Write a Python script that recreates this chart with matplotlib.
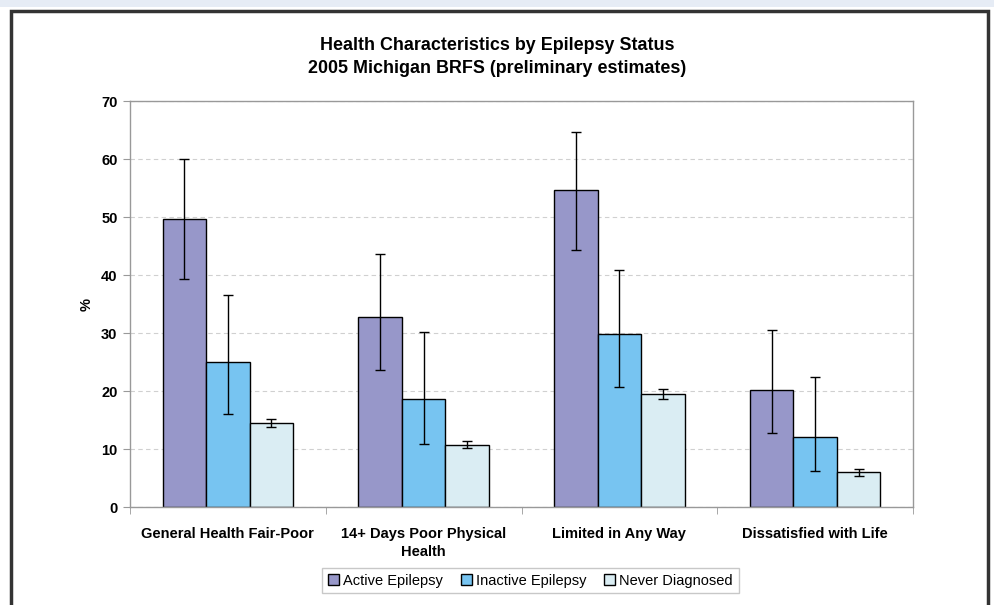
import numpy as np
import matplotlib.pyplot as plt
from matplotlib.patches import Rectangle

plt.rcParams['font.family'] = ['Liberation Sans', 'DejaVu Sans']

# data
categories = ['General Health Fair-Poor', '14+ Days Poor Physical\nHealth',
              'Limited in Any Way', 'Dissatisfied with Life']
series = ['Active Epilepsy', 'Inactive Epilepsy', 'Never Diagnosed']
active = [49.7, 32.9, 54.7, 20.3]
active_lo = [39.3, 23.7, 44.3, 12.8]
active_hi = [60.0, 43.7, 64.8, 30.5]
inactive = [25.0, 18.7, 29.9, 12.2]
inactive_lo = [16.1, 10.9, 20.7, 6.2]
inactive_hi = [36.6, 30.3, 41.0, 22.5]
never = [14.6, 10.8, 19.5, 6.1]
never_lo = [13.9, 10.2, 18.7, 5.4]
never_hi = [15.3, 11.5, 20.4, 6.6]
colors = ['#9797C9', '#77C4F1', '#DAEDF3']

fig = plt.figure(figsize=(9.94, 6.05), dpi=100)
W, H = 994, 605

# page strip and outer frame
fig.patches.append(Rectangle((0, 1 - 7 / H), 1, 7 / H, transform=fig.transFigure,
                             facecolor='#E6ECF5', edgecolor='none', zorder=-2))
fig.patches.append(Rectangle((11 / W, -0.05), (988 - 11) / W, (605 - 10.5) / H + 0.05,
                             transform=fig.transFigure, facecolor='white',
                             edgecolor='#333333', linewidth=2.5, zorder=-1))

ax = fig.add_axes([130 / W, 1 - 507.3 / H, (913 - 130) / W, (507.3 - 101.5) / H])
ax.set_zorder(1)

x = np.arange(len(categories))
w = 1 / 4.5
vals = [active, inactive, never]
los = [active_lo, inactive_lo, never_lo]
his = [active_hi, inactive_hi, never_hi]
for i in range(3):
    v = np.array(vals[i])
    yerr = [v - np.array(los[i]), np.array(his[i]) - v]
    ax.bar(x + (i - 1) * w, v, w, color=colors[i], edgecolor='black',
           linewidth=1, label=series[i], zorder=2,
           yerr=yerr, capsize=3.5, error_kw=dict(ecolor='black', elinewidth=1,
                                                 capthick=1, zorder=3))

ax.set_xlim(-0.5, len(categories) - 0.5)
ax.set_ylim(0, 70)
ax.set_yticks(range(0, 71, 10))
ax.set_xticks(x)
ax.set_xticks(np.arange(-0.5, len(categories)), minor=True)
ax.set_xticklabels(categories, fontweight='bold', fontsize=10.5, linespacing=1.35)
ax.tick_params(axis='x', which='major', length=0, pad=14)
ax.tick_params(axis='x', which='minor', length=5, color='#999999')
ax.tick_params(axis='y', length=5, color='#999999', labelsize=10.5, pad=4)
for lab in ax.get_yticklabels():
    lab.set_fontweight('bold')
for s in ax.spines.values():
    s.set_color('#999999')
    s.set_linewidth(1)
ax.grid(axis='y', linestyle=(0, (4, 3)), color='#D0D0D0', linewidth=0.8, zorder=0)
ax.set_axisbelow(True)
ax.set_ylabel('%', fontweight='bold', fontsize=10.5, labelpad=5)

fig.text(0.5, 1 - 57 / H, 'Health Characteristics by Epilepsy Status\n2005 Michigan BRFS (preliminary estimates)',
         ha='center', va='center', fontweight='bold', fontsize=12.9, linespacing=1.4)

leg = fig.legend(loc='center', bbox_to_anchor=(530.5 / W, 1 - 580.5 / H), ncol=3,
                 fontsize=10.5, frameon=True, fancybox=False, edgecolor='#BBBBBB',
                 handlelength=0.75, handleheight=0.75, handletextpad=0.3,
                 columnspacing=1.2, borderpad=0.4)

fig.savefig('out.png', dpi=100)
